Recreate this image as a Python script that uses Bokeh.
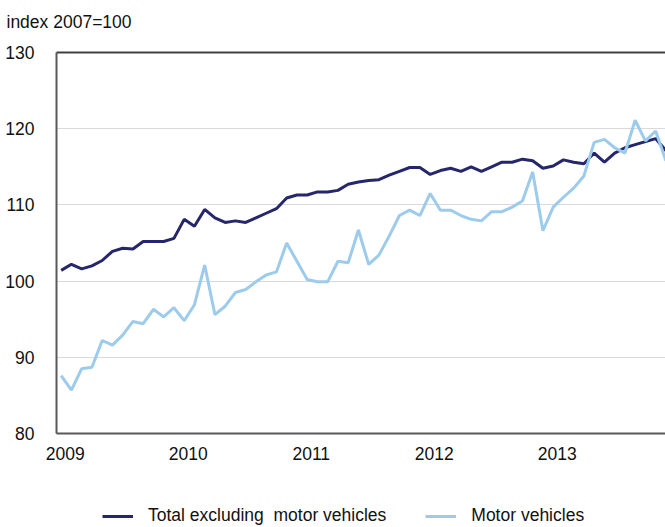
from bokeh.plotting import figure
from bokeh.models import (FixedTicker, Legend, LegendItem, Range1d, Label, LinearAxis,
                          Grid, BoxAnnotation)
from bokeh.embed import file_html
from bokeh.resources import INLINE

# ---- data (monthly, Jan 2009 - Dec 2013) ----
year_labels = ["2009", "2010", "2011", "2012", "2013"]
total_excl_motor = [
    101.4, 102.2, 101.6, 102.0, 102.7, 103.9, 104.3, 104.2, 105.2, 105.2, 105.2, 105.6,
    108.1, 107.2, 109.4, 108.3, 107.7, 107.9, 107.7, 108.3, 108.9, 109.5, 110.9, 111.3,
    111.3, 111.7, 111.7, 111.9, 112.7, 113.0, 113.2, 113.3, 113.9, 114.4, 114.9, 114.9,
    114.0, 114.5, 114.8, 114.4, 115.0, 114.4, 115.0, 115.6, 115.6, 116.0, 115.8, 114.8,
    115.1, 115.9, 115.6, 115.4, 116.8, 115.6, 116.8, 117.5, 117.9, 118.3, 118.7, 117.1,
]
motor_vehicles = [
    87.6, 85.7, 88.5, 88.7, 92.2, 91.6, 92.9, 94.7, 94.4, 96.3, 95.3, 96.5,
    94.8, 96.9, 102.1, 95.6, 96.7, 98.5, 98.9, 99.9, 100.8, 101.2, 105.0, 102.6,
    100.2, 99.9, 99.9, 102.6, 102.4, 106.7, 102.2, 103.4, 105.9, 108.6, 109.3, 108.6,
    111.5, 109.3, 109.3, 108.6, 108.1, 107.9, 109.1, 109.1, 109.7, 110.5, 114.3, 106.6,
    109.7, 111.0, 112.2, 113.8, 118.2, 118.6, 117.5, 116.8, 121.1, 118.4, 119.7, 115.8,
]
months = list(range(len(total_excl_motor)))
y_ticks = [80, 90, 100, 110, 120, 130]
y_min, y_max = 80, 130

FONT = "Liberation Sans"
FS = "17.5px"
DARK = "#25266b"
LIGHT = "#9dcbec"
AXIS_GREY = "#595959"

# The frame covers the whole canvas; axes are pinned at the data edges.
X_LEFT, X_RIGHT = -0.46, 58.96
p = figure(width=665, height=527, output_backend="svg", toolbar_location=None,
           x_range=Range1d(-5.92, X_RIGHT), y_range=Range1d(67.66, 136.82),
           min_border_left=0, min_border_top=0, min_border_right=0,
           min_border_bottom=0)
p.outline_line_color = None
p.background_fill_color = "white"
p.border_fill_color = "white"

# gridlines
p.xgrid.grid_line_color = None
p.ygrid.ticker = FixedTicker(ticks=y_ticks)
p.ygrid.grid_line_color = "#d9d9d9"
p.ygrid.grid_line_width = 1
if "cross_bounds" in Grid.properties():
    p.ygrid.cross_bounds = (X_LEFT, X_RIGHT)
else:
    p.add_layout(BoxAnnotation(right=X_LEFT, fill_color="white", fill_alpha=1,
                               line_color=None, level="underlay"))

r1 = p.line(months, total_excl_motor, line_color=DARK, line_width=3)
r2 = p.line(months, motor_vehicles, line_color=LIGHT, line_width=3)

# bottom (category) axis
xaxis = p.xaxis[0]
xaxis.fixed_location = y_min
xaxis.bounds = (X_LEFT, X_RIGHT)
xaxis.ticker = FixedTicker(ticks=[12 * i + 0.4 for i in range(len(year_labels))])
xaxis.major_label_overrides = {12 * i + 0.4: lab for i, lab in enumerate(year_labels)}
xaxis.major_label_standoff = 8

# left (value) axis
yaxis = p.yaxis[0]
yaxis.fixed_location = X_LEFT
yaxis.bounds = (y_min, y_max)
yaxis.ticker = FixedTicker(ticks=y_ticks)
yaxis.major_label_standoff = 16

for ax in (xaxis, yaxis):
    ax.axis_line_color = AXIS_GREY
    ax.axis_line_width = 2
    ax.major_tick_line_color = None
    ax.minor_tick_line_color = None
    ax.major_label_text_font = FONT
    ax.major_label_text_font_size = FS
    ax.major_label_text_color = "#111111"

# top border of the plot area
top = LinearAxis(fixed_location=y_max, bounds=(X_LEFT, X_RIGHT),
                 ticker=FixedTicker(ticks=[]), axis_line_color="#404040",
                 axis_line_width=2, major_tick_line_color=None,
                 minor_tick_line_color=None, major_label_text_alpha=0)
p.add_layout(top, "above")

# unit caption
p.add_layout(Label(x=6, y=505.7, x_units="screen", y_units="screen",
                   text="index 2007=100", text_font=FONT, text_font_size=FS,
                   text_color="#111111", text_baseline="middle"))

legend = Legend(items=[LegendItem(label="Total excluding  motor vehicles", renderers=[r1]),
                       LegendItem(label="Motor vehicles", renderers=[r2])],
                orientation="horizontal", location=(102, -0.5),
                label_text_font=FONT, label_text_font_size=FS,
                label_text_color="#111111",
                glyph_width=31, glyph_height=24, label_height=24,
                label_standoff=15, spacing=39, padding=0, margin=0,
                border_line_color=None, background_fill_alpha=0)
p.add_layout(legend, "center")

open("out.html", "w").write(file_html(p, INLINE))
